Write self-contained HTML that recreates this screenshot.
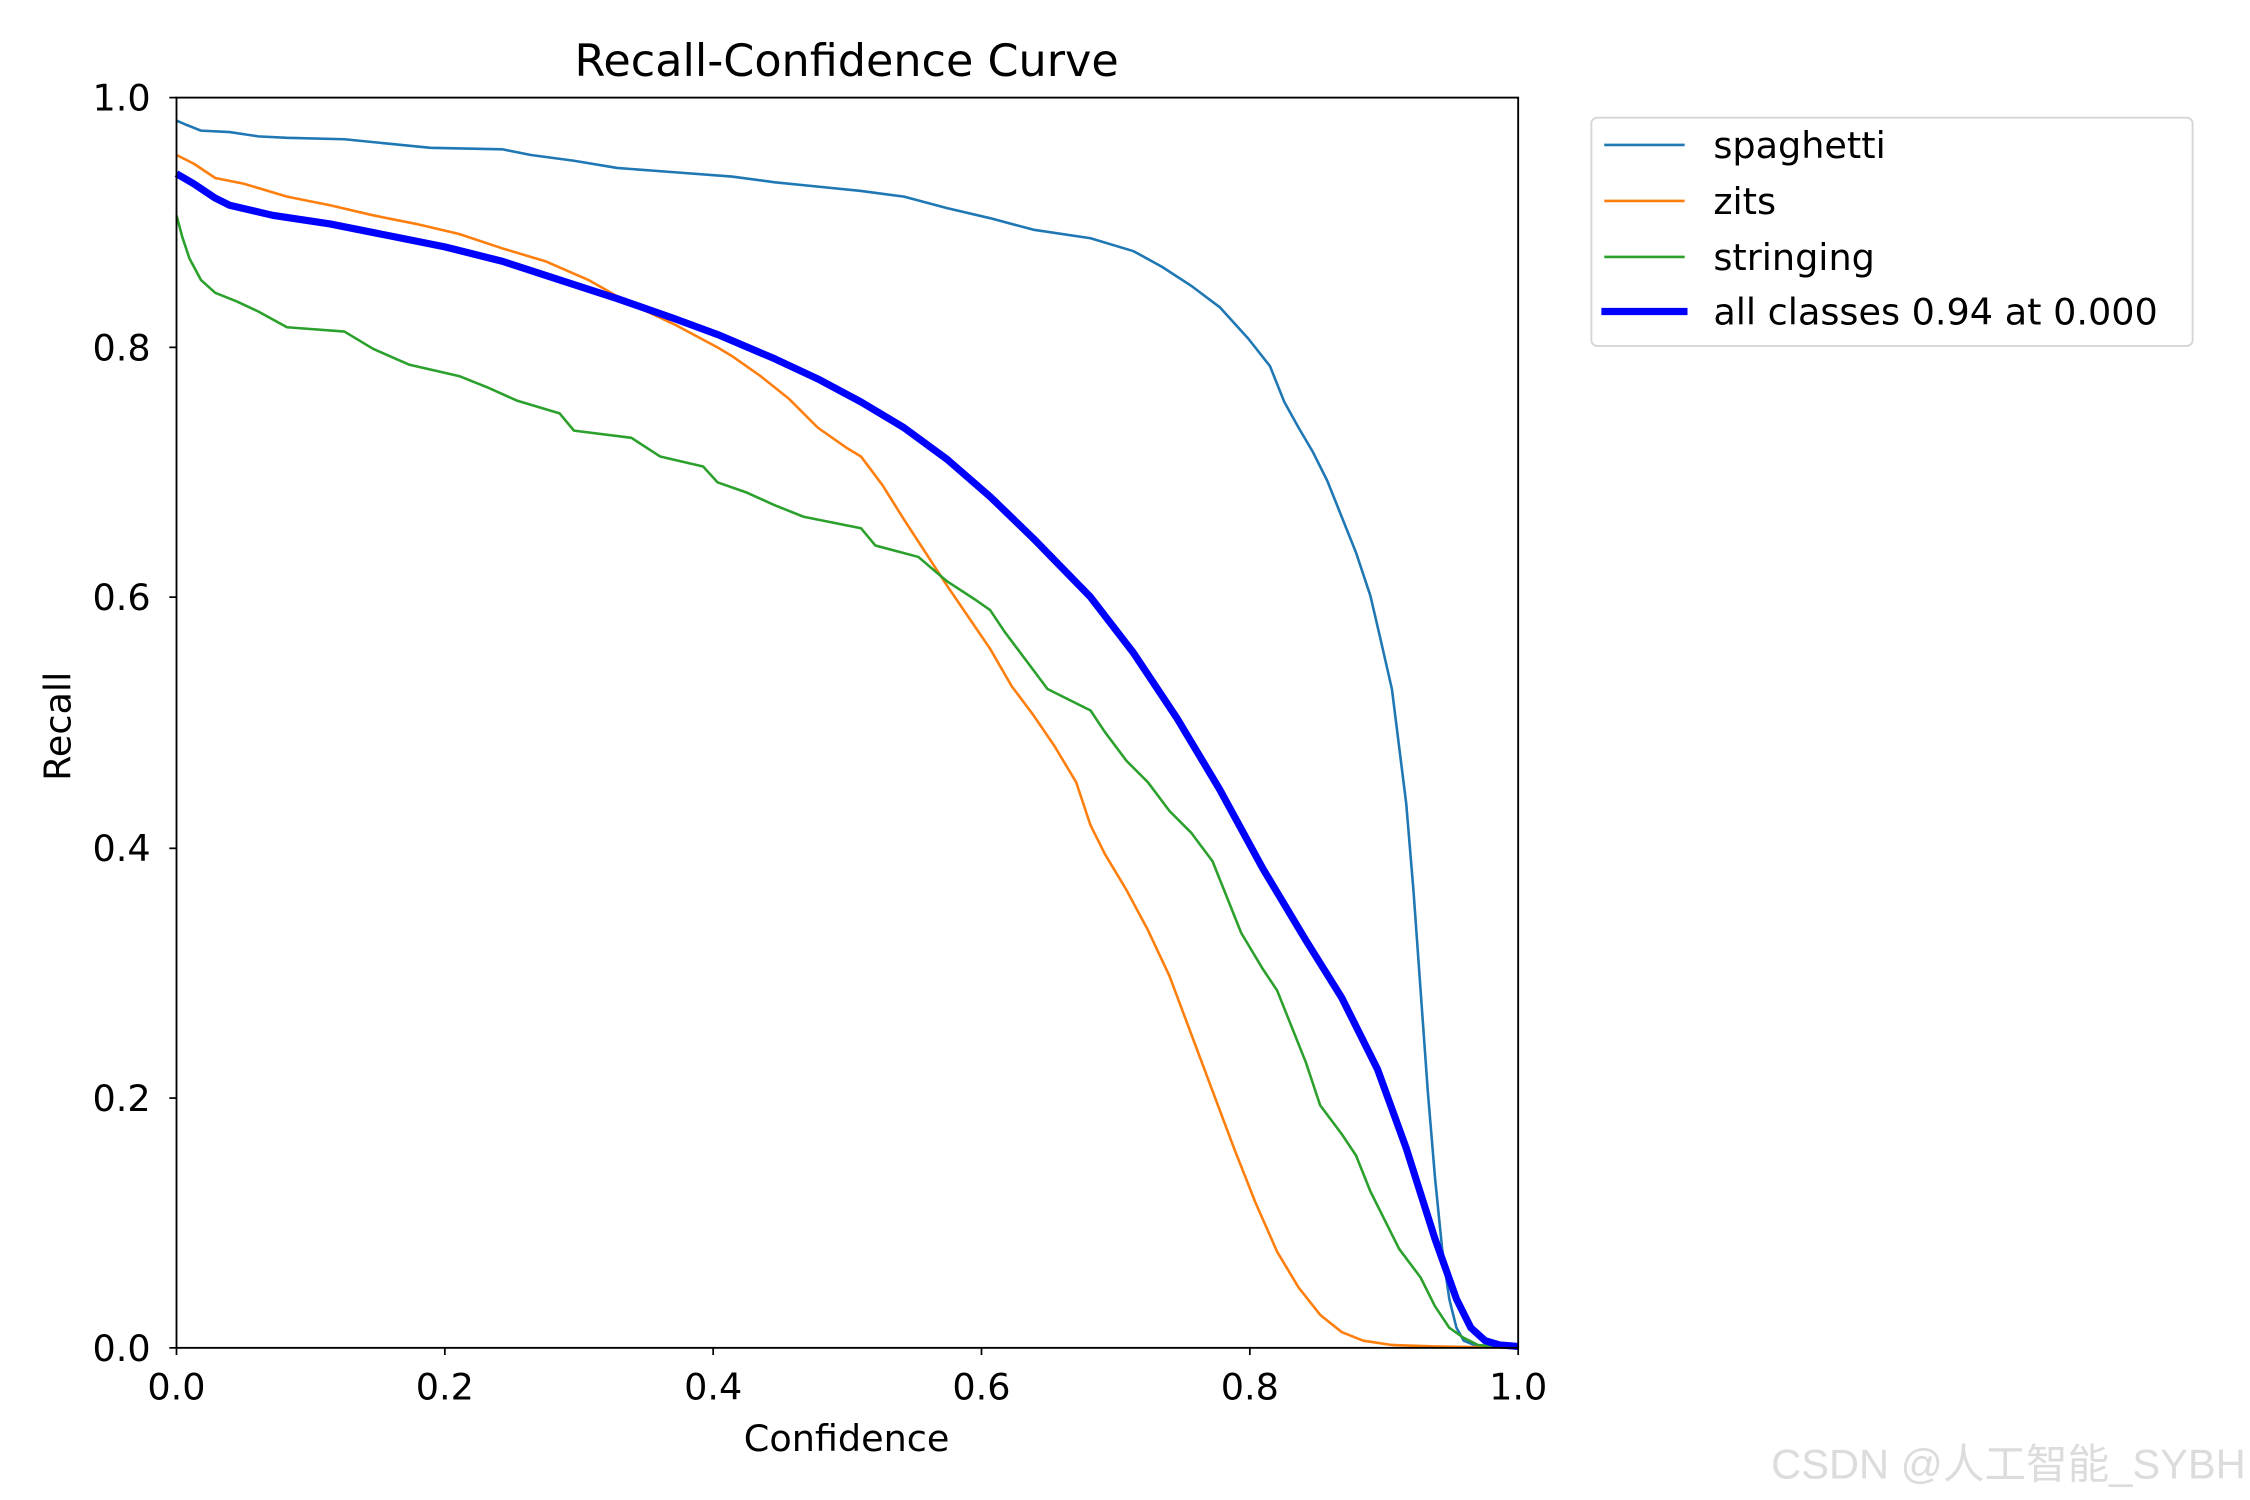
<!DOCTYPE html>
<html><head><meta charset="utf-8"><style>html,body{margin:0;padding:0;background:#fff}svg{display:block}</style></head>
<body>
<svg width="2250" height="1500" viewBox="0 0 1568 1045" preserveAspectRatio="none" xmlns="http://www.w3.org/2000/svg" font-family="'DejaVu Sans','Liberation Sans',sans-serif">
<rect width="1568" height="1045" fill="#fff"/>
<text x="590" y="53" font-size="31" text-anchor="middle">Recall-Confidence Curve</text>
<g fill="none" stroke-linejoin="round">
<polyline stroke="#1f77b4" stroke-width="1.8" points="123,84 130,87 140,91 160,92 180,95 200,96 240,97 270,100 300,103 350,104 370,108 400,112 430,117 470,120 510,123 540,127 570,130 600,133 630,137 660,145 690,152 720,160 760,166 790,175 810,186 830,199 850,214 870,236 885,255 895,280 905,298 915,315 925,335 935,360 945,385 955,415 962,445 970,480 975,520 980,560 985,620 990,690 995,760 1000,820 1005,870 1010,905 1015,925 1020,934 1030,938 1058,939"/>
<polyline stroke="#ff7f0e" stroke-width="1.8" points="123,108 135,114 150,124 170,128 200,137 230,143 260,150 290,156 320,163 350,173 380,182 410,195 440,212 470,226 500,242 510,248 530,262 550,278 570,298 590,312 600,318 615,338 630,362 645,385 660,408 675,430 690,452 705,478 720,498 735,520 750,545 760,575 770,595 785,620 800,648 815,680 830,720 845,760 860,800 875,838 890,872 905,897 920,916 935,928 950,934 970,937 1000,938 1058,939"/>
<polyline stroke="#2ca02c" stroke-width="1.8" points="123,150 127,165 132,180 140,195 150,204 165,210 180,217 200,228 240,231 260,243 285,254 320,262 340,270 360,279 390,288 400,300 440,305 460,318 490,325 500,336 520,343 540,352 560,360 600,368 610,380 640,388 660,405 680,418 690,425 700,440 715,460 730,480 760,495 770,510 785,530 800,545 815,565 830,580 845,600 855,625 865,650 880,675 890,690 900,715 910,740 920,770 935,790 945,805 955,830 965,850 975,870 990,890 1000,910 1010,925 1020,932 1030,937 1058,939"/>
<polyline stroke="#0000ff" stroke-width="5" points="123,121 135,128 150,138 160,143 190,150 230,156 270,164 310,172 350,182 390,195 430,208 470,222 500,233 540,250 570,264 600,280 630,298 660,320 690,346 720,375 760,416 790,455 820,500 850,550 880,605 910,655 935,695 960,745 980,800 1000,863 1015,905 1025,925 1035,934 1045,937 1058,938"/>
</g>
<rect x="123" y="68" width="935" height="871" fill="none" stroke="#000" stroke-width="1.3"/>
<g stroke="#000" stroke-width="1.2">
<line x1="123" y1="939" x2="123" y2="944"/><line x1="310" y1="939" x2="310" y2="944"/><line x1="497" y1="939" x2="497" y2="944"/><line x1="684" y1="939" x2="684" y2="944"/><line x1="871" y1="939" x2="871" y2="944"/><line x1="1058" y1="939" x2="1058" y2="944"/>
<line x1="118" y1="939" x2="123" y2="939"/><line x1="118" y1="765" x2="123" y2="765"/><line x1="118" y1="591" x2="123" y2="591"/><line x1="118" y1="416" x2="123" y2="416"/><line x1="118" y1="242" x2="123" y2="242"/><line x1="118" y1="68" x2="123" y2="68"/>
</g>
<g font-size="25.5" text-anchor="middle">
<text x="123" y="975">0.0</text><text x="310" y="975">0.2</text><text x="497" y="975">0.4</text><text x="684" y="975">0.6</text><text x="871" y="975">0.8</text><text x="1058" y="975">1.0</text>
</g>
<g font-size="25.5" text-anchor="end">
<text x="105" y="948">0.0</text><text x="105" y="774">0.2</text><text x="105" y="600">0.4</text><text x="105" y="425">0.6</text><text x="105" y="251">0.8</text><text x="105" y="77">1.0</text>
</g>
<text x="590" y="1011" font-size="25.5" text-anchor="middle">Confidence</text>
<text transform="translate(49,506) rotate(-90)" font-size="25.5" text-anchor="middle">Recall</text>
<rect x="1109" y="82" width="419" height="159" rx="4" fill="#fff" stroke="#d5d5d5" stroke-width="1.3"/>
<line x1="1118" y1="101" x2="1174" y2="101" stroke="#1f77b4" stroke-width="1.8"/>
<line x1="1118" y1="140" x2="1174" y2="140" stroke="#ff7f0e" stroke-width="1.8"/>
<line x1="1118" y1="179" x2="1174" y2="179" stroke="#2ca02c" stroke-width="1.8"/>
<line x1="1116" y1="217" x2="1176" y2="217" stroke="#0000ff" stroke-width="5"/>
<g font-size="25.5">
<text x="1194" y="110">spaghetti</text><text x="1194" y="149">zits</text><text x="1194" y="188">stringing</text><text x="1194" y="226">all classes 0.94 at 0.000</text>
</g>
<text x="1565" y="1030" font-size="29" text-anchor="end" fill="#dcdcdc" font-family="'Liberation Sans','Noto Sans CJK SC',sans-serif">CSDN @人工智能_SYBH</text>
</svg>
</body></html>
